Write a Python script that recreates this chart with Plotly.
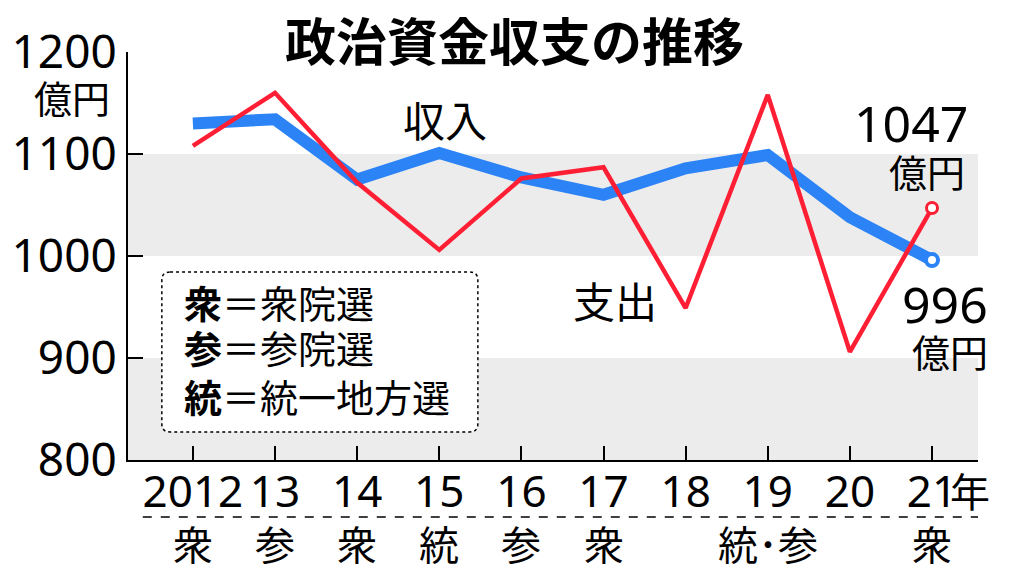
import plotly.graph_objects as go

# ---- data ----
years = ["2012", "13", "14", "15", "16", "17", "18", "19", "20", "21"]
income = [1130, 1134, 1075, 1101, 1077, 1060, 1086, 1099, 1038, 996]
expense = [1108, 1160, 1072, 1006, 1076, 1087, 949, 1158, 906, 1047]
elections = ["衆", "参", "衆", "統", "参", "衆", "", "統･参", "", "衆"]
y_ticks = [800, 900, 1000, 1100, 1200]
legend_rows = [("衆", "衆院選"), ("参", "参院選"), ("統", "統一地方選")]

FONT = "Noto Sans CJK JP"
NUMFONT = "Noto Sans"
BLUE = "#2b83f6"
RED = "#ff1f35"

xi = list(range(len(years)))

fig = go.Figure()

fig.add_trace(go.Scatter(x=xi, y=income, mode="lines",
                         line=dict(color=BLUE, width=12), hoverinfo="skip"))
fig.add_trace(go.Scatter(x=xi, y=expense, mode="lines",
                         line=dict(color=RED, width=4.5), hoverinfo="skip"))
# end markers
fig.add_trace(go.Scatter(x=[xi[-1]], y=[income[-1]], mode="markers",
                         marker=dict(size=12, color="white",
                                     line=dict(color=BLUE, width=4)),
                         hoverinfo="skip"))
fig.add_trace(go.Scatter(x=[xi[-1]], y=[expense[-1]], mode="markers",
                         marker=dict(size=11, color="white",
                                     line=dict(color=RED, width=3)),
                         hoverinfo="skip"))

shapes = []
# gray bands
for y0, y1 in [(1000, 1100), (800, 900)]:
    shapes.append(dict(type="rect", xref="paper", yref="y", x0=0, x1=1,
                       y0=y0, y1=y1, fillcolor="#ececec", line=dict(width=0),
                       layer="below"))

# legend box with rounded corners (data coords)
bx0, bx1, by0, by1 = -0.378, 3.47, 827.5, 984.3
rx, ry = 0.1, 8
path = (f"M {bx0+rx},{by1} L {bx1-rx},{by1} Q {bx1},{by1} {bx1},{by1-ry} "
        f"L {bx1},{by0+ry} Q {bx1},{by0} {bx1-rx},{by0} "
        f"L {bx0+rx},{by0} Q {bx0},{by0} {bx0},{by0+ry} "
        f"L {bx0},{by1-ry} Q {bx0},{by1} {bx0+rx},{by1} Z")
shapes.append(dict(type="path", path=path, xref="x", yref="y",
                   fillcolor="white", line=dict(color="black", width=1.5, dash="dot"),
                   layer="above"))

# dashed separator below year labels
shapes.append(dict(type="line", xref="x", yref="paper", x0=-0.61, x1=9.56,
                   y0=-0.1397, y1=-0.1397,
                   line=dict(color="black", width=1.5, dash="dash")))

ann = []


def A(text, x, y, xref="x", yref="y", size=40, family=FONT, xanchor="center",
      yanchor="middle", xshift=0, yshift=0):
    ann.append(dict(text=text, x=x, y=y, xref=xref, yref=yref, showarrow=False,
                    xanchor=xanchor, yanchor=yanchor, xshift=xshift, yshift=yshift,
                    font=dict(family=family, size=size, color="black")))


A("<b>政治資金収支の推移</b>", 0.455, 1.1275, "paper", "paper", size=51,
  yanchor="top")
A("億円", -0.066, 0.892, "paper", "paper", size=38)
A("収入", 3.07, 1135, size=42)
A("支出", 5.14, 957, size=42)
A(str(expense[-1]), 8.75, 1130, size=50, family=NUMFONT)
A("億円", 8.94, 1084, size=38)
A(str(income[-1]), 9.16, 953, size=50, family=NUMFONT)
A("億円", 9.22, 907, size=38)

# legend rows
for (k, v), yy in zip(legend_rows, [955, 911, 863]):
    A(f"<b>{k}</b>＝{v}", -0.134, yy, size=38, xanchor="left")

# 年 after last year label
A("年", xi[-1], -0.0735, "x", "paper", size=40, xshift=38)

# election labels
for i, e in enumerate(elections):
    if e:
        A(e, xi[i], -0.203, "x", "paper", size=40)

fig.update_layout(
    width=1024, height=579,
    margin=dict(l=128, r=46, t=52, b=119),
    paper_bgcolor="white", plot_bgcolor="white",
    showlegend=False,
    shapes=shapes, annotations=ann,
    font=dict(family=FONT, color="black"),
    xaxis=dict(range=[-0.79, 9.56], tickvals=xi, ticktext=years,
               showgrid=False, zeroline=False, showline=True,
               linecolor="black", linewidth=2, automargin=False, tickangle=0,
               ticks="inside", ticklen=14, tickwidth=1.5, tickcolor="black",
               ticklabelstandoff=-8,
               tickfont=dict(family=NUMFONT, size=44, color="black")),
    yaxis=dict(range=[800, 1200], tickvals=y_ticks,
               showgrid=False, zeroline=False, showline=True,
               linecolor="black", linewidth=2, automargin=False,
               ticks="inside", ticklen=15, tickwidth=2, tickcolor="black",
               tickfont=dict(family=NUMFONT, size=46, color="black")),
)

fig.write_html("out.html", post_script="document.body.style.margin='0';",
               config={"displayModeBar": False})
